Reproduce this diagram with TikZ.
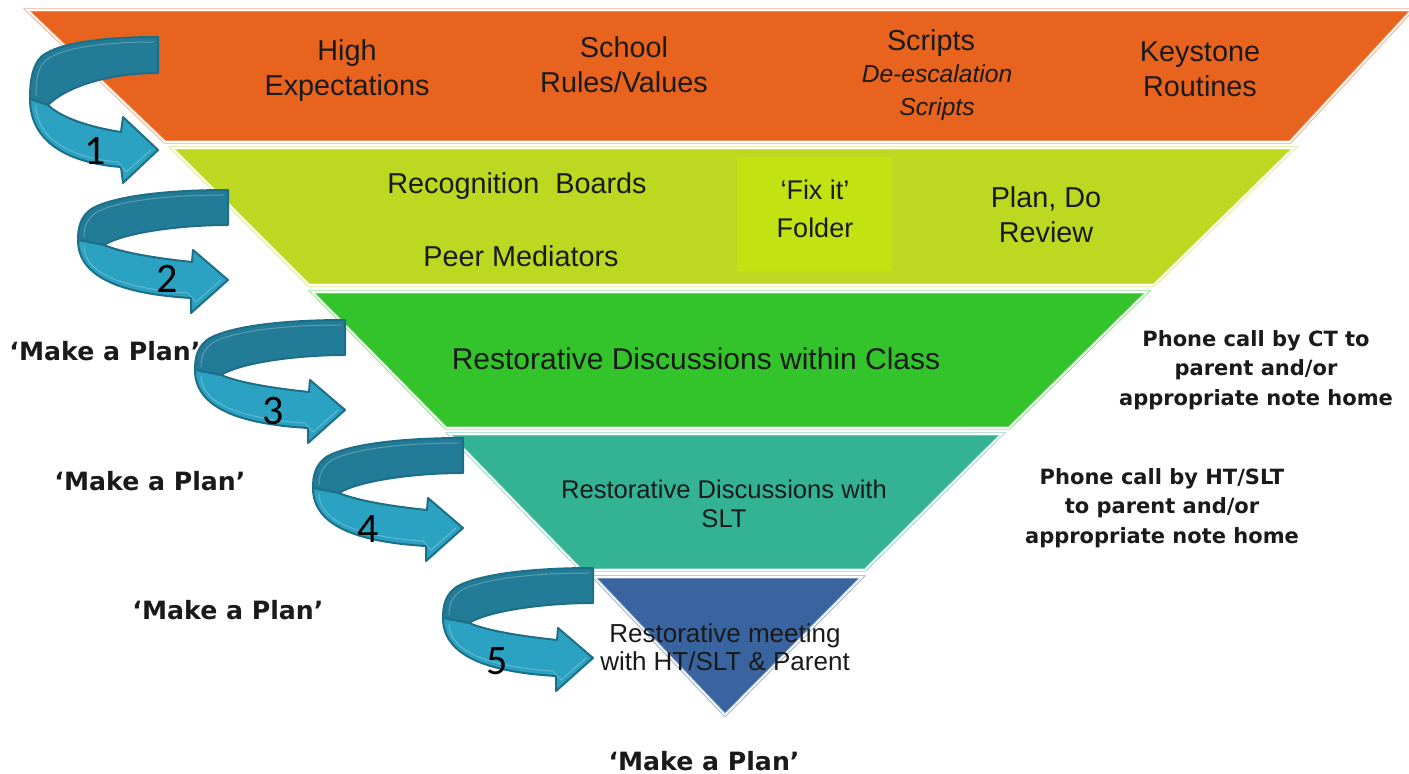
\documentclass[tikz,border=0pt]{standalone}
\usepackage{fontspec}
\setmainfont{Liberation Sans}
\newfontfamily\tahomafont{DejaVu Sans}
\newfontfamily\numfont{Carlito}
\definecolor{corange}{HTML}{E8631E}
\definecolor{clime}{HTML}{BDD820}
\definecolor{cfix}{HTML}{C3E212}
\definecolor{cgreen}{HTML}{32C42A}
\definecolor{cteal}{HTML}{34B294}
\definecolor{cblue}{HTML}{3A64A0}
\definecolor{arrback}{HTML}{237C97}
\definecolor{arrfront}{HTML}{2CA2C2}
\definecolor{arredge}{HTML}{1D6F88}
\definecolor{txt}{HTML}{1A1A1A}
\tikzset{
  tier/.style={fill=#1, draw=#1!55!white, double=white, double distance=0.8pt, line width=0.45pt},
  backband/.style={fill=arrback, draw=arredge, line width=1pt, line join=round},
  frontband/.style={fill=arrfront, draw=arredge, line width=1pt, line join=round},
  hilite/.style={draw=white, opacity=0.25, line width=0.5pt},
  tiertext/.style={text=txt, align=center, font=\fontsize{14.4}{17.5}\selectfont},
  smalltext/.style={text=txt, align=center, font=\fontsize{12.8}{14.5}\selectfont},
  boldnote/.style={text=txt, align=center, font=\tahomafont\bfseries\fontsize{10.5}{14.8}\selectfont},
  plannote/.style={text=txt, font=\tahomafont\bfseries\fontsize{12.6}{15}\selectfont},
  numlabel/.style={text=black, font=\numfont\fontsize{21}{21}\selectfont},
  uarrow/.pic={
    \path[backband] (0,0) .. controls (-55,0) and (-110,5) .. (-135,18)
       .. controls (-148,26) and (-150,38) .. (-150,50)
       -- (-124,55) .. controls (-105,43) and (-50,35) .. (0,35) -- cycle;
    \path[hilite] (-4,5) .. controls (-55,5) and (-108,10) .. (-131,22)
       .. controls (-142,29) and (-144,38) .. (-144,47);
    \path[frontband] (-150,50) .. controls (-150,88) and (-105,104) .. (-37,108)
       -- (-37,123) -- (0,90) -- (-35,60) -- (-36,72)
       .. controls (-75,68) and (-108,62) .. (-124,55) -- cycle;
    \path[hilite] (-144,56) .. controls (-144,84) and (-102,99) .. (-40,103) -- (-32,112) -- (-7,90);
  },
  tallarrow/.pic={
    \path[backband] (0,0) .. controls (-50,0) and (-98,5) .. (-116,19)
       .. controls (-126,28) and (-128,45) .. (-128,62)
       -- (-110,68) .. controls (-92,50) and (-50,36) .. (0,36) -- cycle;
    \path[hilite] (-4,5) .. controls (-50,5) and (-95,10) .. (-112,23)
       .. controls (-121,31) and (-122,45) .. (-122,59);
    \path[frontband] (-128,62) .. controls (-128,105) and (-90,126) .. (-37,130)
       -- (-35,146) -- (0,113) -- (-35,80) -- (-37,95)
       .. controls (-70,90) and (-98,80) .. (-110,68) -- cycle;
    \path[hilite] (-122,68) .. controls (-122,101) and (-88,121) .. (-40,125) -- (-32,135) -- (-7,113);
  }
}
\begin{document}
\begin{tikzpicture}[x=0.5pt, y=-0.5pt]
\useasboundingbox (0,0) rectangle (1409,774);
% funnel tiers
\path[tier=corange] (27,10) -- (1412,10) -- (1290,142) -- (165,142) -- cycle;
\path[tier=clime] (172,148) -- (1294,148) -- (1154,285) -- (309,285) -- cycle;
\node[fill=cfix, minimum width=77.5pt, minimum height=57pt, inner sep=0pt] (fixbox) at (814.5,214) {};
\path[tier=cgreen] (312,292) -- (1147,292) -- (1009,428) -- (446,428) -- cycle;
\path[tier=cteal] (449,434) -- (1002,434) -- (865,570) -- (581,570) -- cycle;
\path[tier=cblue] (594,577) -- (862,577) -- (725,715) -- cycle;

% tier texts
\node[tiertext] (hi) at (347,71) {High\\Expectations};
\node[tiertext] (sch) at (624,65) {School\\Rules/Values};
\node[tiertext] (scr1) at (931,43) {Scripts};
\node[tiertext, font=\itshape\fontsize{12.3}{16.5}\selectfont] (scr2) at (937,93) {De-escalation\\Scripts};
\node[tiertext] (key) at (1200,69) {Keystone\\Routines};
\node[tiertext] (rec) at (517,186) {Recognition\ \ Boards};
\node[tiertext] (peer) at (521,256) {Peer Mediators};
\node[tiertext, font=\fontsize{13.5}{19}\selectfont] (fix) at (815,209) {‘Fix it’\\Folder};
\node[tiertext] (plan) at (1046,215) {Plan, Do\\Review};
\node[tiertext, font=\fontsize{15}{17.5}\selectfont] (rdc) at (696,359) {Restorative Discussions within Class};
\node[smalltext] (rds) at (724,504) {Restorative Discussions with\\SLT};
\node[smalltext, font=\fontsize{13}{14}\selectfont] (rm) at (725,647) {Restorative meeting\\with HT/SLT \& Parent};

% side notes
\node[boldnote] (ph1) at (1256,370) {Phone call by CT to\\parent and/or\\appropriate note home};
\node[boldnote] (ph2) at (1162,508) {Phone call by HT/SLT\\to parent and/or\\appropriate note home};
\node[plannote] (mp1) at (105,351) {‘Make a Plan’};
\node[plannote] (mp2) at (150,481) {‘Make a Plan’};
\node[plannote] (mp3) at (228,610) {‘Make a Plan’};
\node[plannote] (mp4) at (704,761) {‘Make a Plan’};

% curved arrows
\pic at (158,37) {tallarrow};
\pic at (228,190) {uarrow};
\pic at (345,320) {uarrow};
\pic at (463,438) {uarrow};
\pic at (593,568) {uarrow};

% step numbers
\node[numlabel] (n1) at (95,151) {1};
\node[numlabel] (n2) at (167,279) {2};
\node[numlabel] (n3) at (273,411) {3};
\node[numlabel] (n4) at (368,529) {4};
\node[numlabel] (n5) at (497,661) {5};
\end{tikzpicture}
\end{document}
